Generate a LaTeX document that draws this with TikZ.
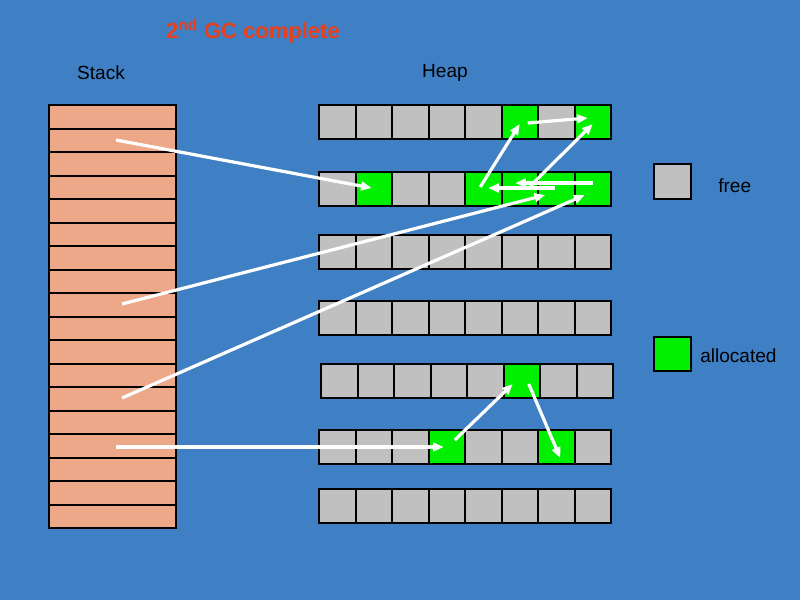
\documentclass[tikz,border=0pt]{standalone}
\usepackage{fontspec}
\setmainfont{Liberation Sans}
\usetikzlibrary{arrows.meta}
\definecolor{bg}{HTML}{3F80C4}
\definecolor{cgray}{HTML}{C0C0C0}
\definecolor{cgreen}{HTML}{00F000}
\definecolor{stk}{HTML}{ECA888}
\definecolor{ttl}{HTML}{E8401C}
\begin{document}
\begin{tikzpicture}[x=0.75pt,y=-0.75pt,
  cell/.style={draw=black,line width=1.5pt,fill=cgray,minimum width=36.5*0.75pt,minimum height=34*0.75pt,inner sep=0pt,outer sep=0pt},
  alloc/.style={cell,fill=cgreen},
  srow/.style={draw=black,line width=1.5pt,fill=stk,minimum width=127*0.75pt,minimum height=23.5*0.75pt,inner sep=0pt,outer sep=0pt},
  ptr/.style={white,line width=2.4pt,-{Triangle[length=8pt,width=6.5pt]}},
  lbl/.style={font=\fontsize{14.3pt}{16pt}\selectfont,inner sep=0pt}]
\fill[bg] (0,0) rectangle (800,600);
\useasboundingbox (0,0) rectangle (800,600);
\node[font=\bfseries\fontsize{16.5pt}{18pt}\selectfont,text=ttl] (title) at (253,31) {2\textsuperscript{nd} GC complete};
\node[lbl] (stacklbl) at (101,73) {Stack};
\node[lbl] (heaplbl) at (445,73) {Heap};
% stack
\foreach \i in {1,...,18}{
  \node[srow] (s\i) at (112.5,{105+23.5*(\i-0.5)}) {};
}
% heap rows
\foreach \r/\y/\xs in {1/122/319,2/189/319,3/252/319,4/318/319,5/381/321,6/447/319,7/506/319}{
  \foreach \c in {1,...,8}{
    \node[cell] (h\r\c) at ({\xs+36.5*(\c-0.5)},\y) {};
  }
}
\foreach \n in {16,18,22,25,26,27,28,56,64,67}{
  \node[alloc] at (h\n) {};
}
% legend
\node[cell,minimum width=37*0.75pt,minimum height=35*0.75pt] (lfree) at (672.5,181.5) {};
\node[lbl,anchor=west] (lfreet) at (718,186) {free};
\node[alloc,minimum width=37*0.75pt,minimum height=34*0.75pt] (lalloc) at (672.5,354) {};
\node[lbl,anchor=west] (lalloct) at (700,356) {allocated};
% pointers
\coordinate (p1) at (116,140);
\coordinate (p2) at (122,304);
\coordinate (p3) at (122,398);
\coordinate (p4) at (116,447);
\draw[ptr] (p1) -- ([shift={(-2,-1)}]h22.center);
\draw[ptr] (p2) -- ([shift={(-11,6)}]h27.center);
\draw[ptr] (p3) -- ([shift={(-8,6)}]h28.center);
\draw[ptr] (p4) -- ([shift={(-3,0)}]h64.center);
\draw[ptr] ([shift={(8,-7)}]h64.center) -- ([shift={(-9,3)}]h56.center);
\draw[ptr] ([shift={(7,3)}]h56.center) -- ([shift={(4,11)}]h67.center);
\draw[ptr] ([shift={(-3,-2)}]h25.center) -- ([shift={(0,2)}]h16.center);
\draw[ptr] ([shift={(8,1)}]h16.center) -- ([shift={(-5,-4)}]h18.center);
\draw[ptr] ([shift={(-26,-3)}]h27.center) -- ([shift={(0,2)}]h18.center);
\draw[ptr] ([shift={(0,-6)}]h28.center) -- ([shift={(-41,-6)}]h27.center);
\draw[ptr] ([shift={(-1,-1)}]h27.center) -- ([shift={(5,-1)}]h25.center);
\end{tikzpicture}
\end{document}
